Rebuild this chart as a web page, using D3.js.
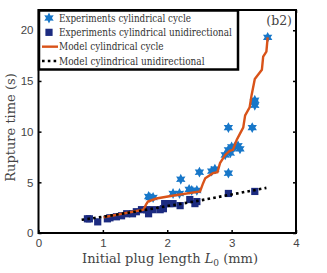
<!DOCTYPE html>
<html>
<head>
<meta charset="utf-8">
<script src="https://cdn.jsdelivr.net/npm/d3@7"></script>
<style>
  body { margin: 0; background: #fff; }
  svg { display: block; }
</style>
</head>
<body>
<svg width="327" height="273"></svg>
<script>
// experiments, cylindrical cycle (stars)
const cycleL = [3.56, 3.36, 3.36, 3.35, 3.32, 2.95, 2.95, 2.90, 2.95, 3.0, 3.05, 3.10, 3.13, 2.98, 2.74, 2.69, 2.50, 2.21, 2.09, 2.19, 2.34, 2.38, 2.46, 1.73, 1.71, 1.78];
const cycleT = [19.3, 13.1, 12.6, 12.9, 10.4, 10.4, 5.9, 7.7, 8.2, 8.5, 8.5, 8.6, 8.3, 7.9, 6.3, 6.1, 6.0, 5.3, 3.9, 3.9, 4.3, 4.2, 4.2, 3.5, 3.6, 3.5];

// experiments, cylindrical unidirectional (squares)
const uniL = [3.36, 2.95, 2.43, 2.46, 2.35, 2.20, 2.09, 2.04, 1.96, 1.94, 1.89, 1.78, 1.71, 1.68, 1.60, 1.52, 1.46, 1.37, 1.29, 1.21, 1.11, 1.07, 0.92, 0.79, 0.76];
const uniT = [4.1, 3.9, 2.9, 3.1, 3.3, 2.7, 2.9, 2.9, 2.9, 2.4, 2.3, 2.3, 1.9, 2.3, 2.3, 2.1, 1.9, 1.9, 1.7, 1.6, 1.5, 1.4, 1.1, 1.4, 1.4];

// model, cylindrical cycle
const modelCycleL = [1.01, 1.30, 1.63, 1.67, 1.70, 1.83, 2.10, 2.51, 2.55, 2.59, 2.71, 2.78, 2.82, 2.90, 2.97, 3.02, 3.08, 3.13, 3.18, 3.21, 3.28, 3.31, 3.36, 3.47, 3.49, 3.54, 3.56];
const modelCycleT = [1.55, 1.9, 2.3, 2.8, 3.1, 3.4, 3.7, 4.1, 4.8, 5.4, 5.9, 6.0, 6.9, 7.7, 8.1, 8.2, 9.2, 9.8, 10.4, 11.6, 12.4, 13.6, 15.2, 16.1, 17.4, 17.9, 19.3];

// model, cylindrical unidirectional
const modelUniL = [0.67, 1.0, 1.5, 2.0, 2.5, 3.0, 3.54];
const modelUniT = [1.3, 1.6, 2.1, 2.65, 3.2, 3.8, 4.45];

const xTicks = [0, 1, 2, 3, 4];
const yTicks = [0, 5, 10, 15, 20];
const legendLabels = [
  'Experiments cylindrical cycle',
  'Experiments cylindrical unidirectional',
  'Model cylindrical cycle',
  'Model cylindrical unidirectional'
];

const starBlue = '#1777c9';
const squareBlue = '#1c2b80';
const orange = '#d95319';
const serif = 'DejaVu Serif';
const sans = 'Liberation Sans';

const svg = d3.select('svg');
const pLeft = 38.5, pRight = 296, pTop = 10, pBottom = 233;

const x = d3.scaleLinear().domain([0, 4]).range([pLeft, pRight]);
const y = d3.scaleLinear().domain([0, 22]).range([pBottom, pTop]);

// six pointed star (hexagram)
const hexagram = {
  draw(ctx, size) {
    const R = Math.sqrt(size) * 0.75, r = R * 0.55;
    for (let i = 0; i < 12; i++) {
      const a = -Math.PI / 2 + i * Math.PI / 6;
      const rad = i % 2 ? r : R;
      if (i === 0) ctx.moveTo(rad * Math.cos(a), rad * Math.sin(a));
      else ctx.lineTo(rad * Math.cos(a), rad * Math.sin(a));
    }
    ctx.closePath();
  }
};

const line = d3.line().x(d => x(d[0])).y(d => y(d[1]));

// stars
svg.append('g').selectAll('path')
  .data(d3.zip(cycleL, cycleT))
  .join('path')
  .attr('transform', d => `translate(${x(d[0])},${y(d[1])})`)
  .attr('d', d3.symbol().type(hexagram).size(52))
  .attr('fill', starBlue);

// squares
svg.append('g').selectAll('rect')
  .data(d3.zip(uniL, uniT))
  .join('rect')
  .attr('x', d => x(d[0]) - 3.6)
  .attr('y', d => y(d[1]) - 3.6)
  .attr('width', 7.2)
  .attr('height', 7.2)
  .attr('fill', squareBlue);

// model lines
svg.append('path')
  .datum(d3.zip(modelCycleL, modelCycleT))
  .attr('d', line)
  .attr('fill', 'none')
  .attr('stroke', orange)
  .attr('stroke-width', 2.4);

svg.append('path')
  .datum(d3.zip(modelUniL, modelUniT))
  .attr('d', line)
  .attr('fill', 'none')
  .attr('stroke', '#000')
  .attr('stroke-width', 2.6)
  .attr('stroke-dasharray', '2.6,3.2');

// frame with inward ticks
svg.append('rect')
  .attr('x', pLeft).attr('y', pTop)
  .attr('width', pRight - pLeft).attr('height', pBottom - pTop)
  .attr('fill', 'none')
  .attr('stroke', '#000')
  .attr('stroke-width', 2);

const fmt = d3.format('d');

svg.append('g')
  .attr('transform', `translate(0,${pBottom})`)
  .call(d3.axisBottom(x).tickValues(xTicks).tickFormat(fmt).tickSizeInner(-3).tickSizeOuter(0).tickPadding(6))
  .call(g => g.select('.domain').remove())
  .call(g => g.selectAll('line').attr('stroke-width', 1.5))
  .call(g => g.selectAll('text').attr('font-family', sans).attr('font-size', 11.5).attr('fill', '#444'));

svg.append('g')
  .attr('transform', `translate(${pLeft},0)`)
  .call(d3.axisLeft(y).tickValues(yTicks).tickFormat(fmt).tickSizeInner(-3).tickSizeOuter(0).tickPadding(5))
  .call(g => g.select('.domain').remove())
  .call(g => g.selectAll('line').attr('stroke-width', 1.5))
  .call(g => g.selectAll('text').attr('font-family', sans).attr('font-size', 11.5).attr('fill', '#444'));

svg.append('g')
  .attr('transform', `translate(${pRight},0)`)
  .call(d3.axisRight(y).tickValues(yTicks).tickSizeInner(-3).tickSizeOuter(0).tickFormat(''))
  .call(g => g.select('.domain').remove())
  .call(g => g.selectAll('line').attr('stroke-width', 1.5));

svg.append('g')
  .attr('transform', `translate(0,${pTop})`)
  .call(d3.axisTop(x).tickValues(xTicks).tickSizeInner(-3).tickSizeOuter(0).tickFormat(''))
  .call(g => g.select('.domain').remove())
  .call(g => g.selectAll('line').attr('stroke-width', 1.5));

// axis titles
svg.append('text')
  .attr('transform', `translate(15,${(pTop + pBottom) / 2 + 6}) rotate(-90)`)
  .attr('text-anchor', 'middle')
  .attr('font-family', serif)
  .attr('font-size', 13)
  .attr('fill', '#444')
  .text('Rupture time (s)');

const xt = svg.append('text')
  .attr('x', 170).attr('y', 263)
  .attr('text-anchor', 'middle')
  .attr('font-family', serif)
  .attr('font-size', 13)
  .attr('fill', '#444');
xt.append('tspan').text('Initial plug length ');
xt.append('tspan').attr('font-style', 'italic').text('L');
xt.append('tspan').attr('font-size', 9).attr('dy', 2.5).text('0');
xt.append('tspan').attr('dy', -2.5).text(' (mm)');

svg.append('text')
  .attr('x', 292).attr('y', 25)
  .attr('text-anchor', 'end')
  .attr('font-family', serif)
  .attr('font-size', 12.5)
  .attr('fill', '#444')
  .text('(b2)');

// legend
const lg = svg.append('g');
lg.append('rect')
  .attr('x', 39).attr('y', 10.5)
  .attr('width', 199).attr('height', 59)
  .attr('fill', '#fff')
  .attr('stroke', '#000')
  .attr('stroke-width', 2.5);

const rowY = d3.scalePoint().domain(d3.range(4)).range([18, 61]);

lg.append('path')
  .attr('transform', `translate(49,${rowY(0)})`)
  .attr('d', d3.symbol().type(hexagram).size(52))
  .attr('fill', starBlue);
lg.append('rect')
  .attr('x', 49 - 3.6).attr('y', rowY(1) - 3.6)
  .attr('width', 7.2).attr('height', 7.2)
  .attr('fill', squareBlue);
lg.append('line')
  .attr('x1', 42).attr('x2', 58)
  .attr('y1', rowY(2)).attr('y2', rowY(2))
  .attr('stroke', orange).attr('stroke-width', 2.4);
lg.append('line')
  .attr('x1', 42).attr('x2', 58)
  .attr('y1', rowY(3)).attr('y2', rowY(3))
  .attr('stroke', '#000').attr('stroke-width', 2.6)
  .attr('stroke-dasharray', '2.6,3.2');

lg.selectAll('text.lab')
  .data(legendLabels)
  .join('text')
  .attr('class', 'lab')
  .attr('x', 59)
  .attr('y', (d, i) => rowY(i) + 3.5)
  .attr('font-family', serif)
  .attr('font-size', 10.8)
  .attr('textLength', d => d.length * 4.55)
  .attr('lengthAdjust', 'spacingAndGlyphs')
  .attr('fill', '#333')
  .text(d => d);
</script>
</body>
</html>
